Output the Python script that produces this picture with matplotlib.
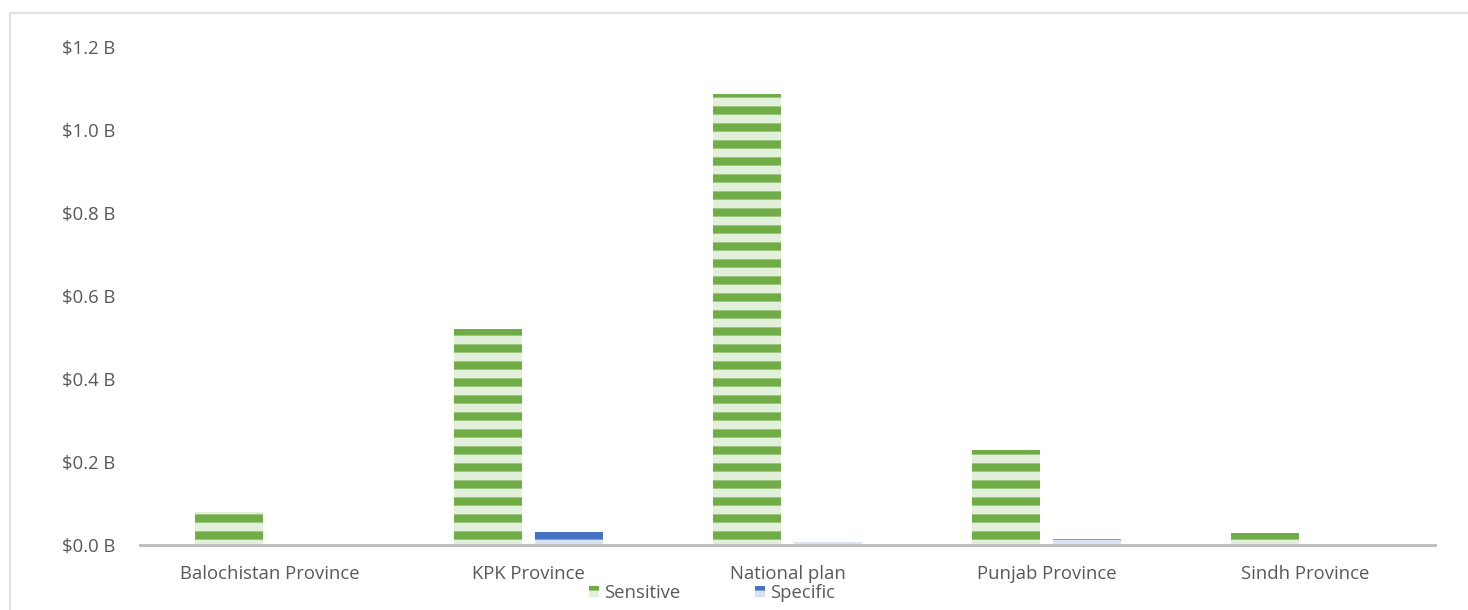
import matplotlib
matplotlib.use("Agg")
import matplotlib.pyplot as plt
import numpy as np
from matplotlib.patches import Rectangle

# dados (em bilhoes de dolares)
categorias = ["Balochistan Province", "KPK Province", "National plan",
              "Punjab Province", "Sindh Province"]
sensitive = [0.080, 0.520, 1.087, 0.229, 0.029]
specific = [0.0, 0.031, 0.007, 0.014, 0.0]
yticks = [0.0, 0.2, 0.4, 0.6, 0.8, 1.0, 1.2]

verde_escuro = "#70AD47"
verde_claro = "#E2EFDA"
azul_escuro = "#4472C4"
azul_claro = "#D9E2F3"
cinza_txt = "#595959"

# dpi 102 -> periodo das listras (hatch) = 17 px, como no original
DPI = 102
plt.rcParams["font.family"] = ["Open Sans", "DejaVu Sans"]
plt.rcParams["hatch.linewidth"] = 5.8
fs = 13.1

W, H = 1468, 610
fig = plt.figure(figsize=(W / DPI, H / DPI), dpi=DPI)
ax = fig.add_axes([140 / W, (H - 545) / H, (1435 - 140) / W, (545 - 47) / H])

x = np.arange(len(categorias))
larg = 0.263
desl = 0.156
ax.bar(x - desl, sensitive, larg, facecolor=verde_claro, edgecolor=verde_escuro,
       linewidth=0, hatch="-", label="Sensitive")
ax.bar(x + desl, specific, larg, facecolor=azul_claro, edgecolor=azul_escuro,
       linewidth=0, hatch="-", label="Specific")

ax.set_xlim(-0.5, len(categorias) - 0.5)
ax.set_ylim(0, 1.2)
ax.set_yticks(yticks)
ax.set_yticklabels(["$%.1f B" % v for v in yticks])
ax.set_xticks(x)
ax.set_xticklabels(categorias)
ax.tick_params(axis="both", length=0, labelsize=fs, colors=cinza_txt)
ax.tick_params(axis="y", pad=17.6)
ax.tick_params(axis="x", pad=14.4)
for s in ["top", "right", "left"]:
    ax.spines[s].set_visible(False)
ax.spines["bottom"].set_color("#BFBFBF")
ax.spines["bottom"].set_linewidth(2.1)
ax.spines["bottom"].set_zorder(5)

leg = fig.legend(loc="center", bbox_to_anchor=(712 / W, 1 - 593 / H), ncol=2,
                 frameon=False, fontsize=fs, handlelength=0.55, handleheight=0.55,
                 handletextpad=0.27, columnspacing=4.0, borderaxespad=0,
                 borderpad=0)
for t in leg.get_texts():
    t.set_color(cinza_txt)

# borda externa do grafico
fig.patches.append(Rectangle((10 / W, -0.1), 1.2, 1 - 13 / H + 0.1,
                             transform=fig.transFigure, fill=False,
                             edgecolor="#D9D9D9", linewidth=1.1))

plt.savefig("out.png", dpi=DPI)
plt.close()
